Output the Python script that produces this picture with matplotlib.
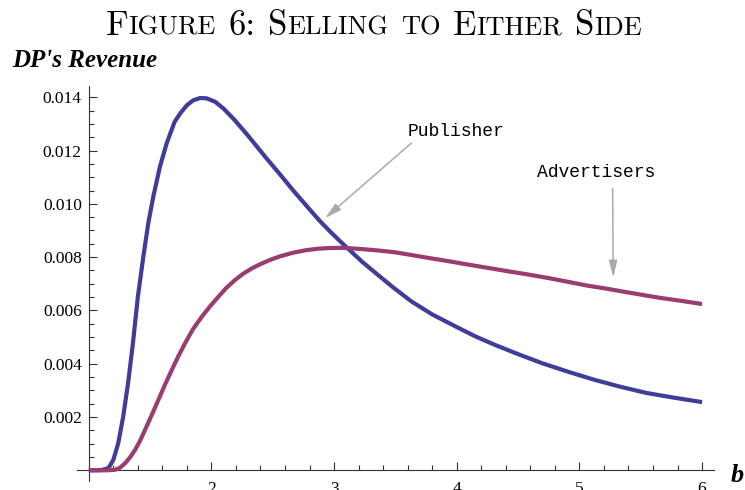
import matplotlib
matplotlib.use('Agg')
import matplotlib.pyplot as plt
from matplotlib.ticker import FixedLocator, MultipleLocator, FormatStrFormatter
from matplotlib.offsetbox import TextArea, HPacker, AnchoredOffsetbox

# values
publisher_x = [1.00, 1.10, 1.16, 1.20, 1.24, 1.28, 1.32, 1.36, 1.40, 1.445, 1.485, 1.526,
               1.58, 1.635, 1.70, 1.75, 1.80, 1.85, 1.907, 1.96, 2.03, 2.10, 2.19, 2.30,
               2.45, 2.56, 2.667, 2.78, 2.885, 2.97, 3.048, 3.13, 3.23, 3.34, 3.48, 3.63,
               3.80, 3.99, 4.15, 4.31, 4.50, 4.69, 4.90, 5.12, 5.33, 5.55, 5.78, 6.00]
publisher_y = [0.0, 0.00001, 0.00008, 0.00039, 0.00101, 0.0020, 0.00326, 0.00477, 0.00651,
               0.00802, 0.00927, 0.01027, 0.01139, 0.01227, 0.01308, 0.01342, 0.01370,
               0.01388, 0.01397, 0.01396, 0.01383, 0.01357, 0.01314, 0.01255, 0.01170,
               0.01110, 0.01050, 0.00990, 0.00935, 0.00895, 0.00860, 0.00825, 0.00782,
               0.00740, 0.00687, 0.00634, 0.00585, 0.00540, 0.00503, 0.00471, 0.00436,
               0.00403, 0.00371, 0.00340, 0.00314, 0.00290, 0.00272, 0.00256]

advertisers_x = [1.00, 1.15, 1.214, 1.255, 1.295, 1.335, 1.377, 1.418, 1.458, 1.51, 1.567,
                 1.62, 1.676, 1.73, 1.785, 1.85, 1.921, 1.99, 2.056, 2.12, 2.192, 2.26,
                 2.33, 2.40, 2.48, 2.56, 2.661, 2.77, 2.878, 2.96, 3.05, 3.14, 3.229, 3.36,
                 3.499, 3.63, 3.769, 3.93, 4.093, 4.25, 4.417, 4.58, 4.741, 4.90, 5.066,
                 5.23, 5.39, 5.53, 5.66, 5.83, 6.00]
advertisers_y = [0.0, 0.0, 0.00002, 0.0001, 0.00026, 0.00048, 0.00076, 0.00111, 0.00151,
                 0.00204, 0.00264, 0.00320, 0.00376, 0.00428, 0.00477, 0.00530, 0.00576,
                 0.00616, 0.00651, 0.00684, 0.00714, 0.00738, 0.00758, 0.00774, 0.00790,
                 0.00803, 0.00816, 0.00826, 0.00832, 0.00834, 0.00835, 0.00833, 0.00830,
                 0.00825, 0.00818, 0.00808, 0.00797, 0.00785, 0.00772, 0.00760, 0.00747,
                 0.00735, 0.00722, 0.00708, 0.00693, 0.00681, 0.00668, 0.00657, 0.00647,
                 0.00636, 0.00624]

x_ticks = [2, 3, 4, 5, 6]
y_ticks = [0.002, 0.004, 0.006, 0.008, 0.010, 0.012, 0.014]

blue = '#3f3d99'
purple = '#993d71'
grey = '#aaaaaa'

fig = plt.figure(figsize=(7.45, 4.9), dpi=100)
ax = fig.add_axes([0.1027, 0.0184, 0.8561, 0.8071])

ax.plot(publisher_x, publisher_y, color=blue, lw=3.0, solid_capstyle='butt',
        solid_joinstyle='round', zorder=3)
ax.plot(advertisers_x, advertisers_y, color=purple, lw=3.0, solid_capstyle='butt',
        solid_joinstyle='round', zorder=4)

ax.set_xlim(0.9, 6.1)
ax.set_ylim(-0.0004, 0.01444)

ax.spines['top'].set_visible(False)
ax.spines['right'].set_visible(False)
ax.spines['left'].set_position(('data', 1))
ax.spines['bottom'].set_position(('data', 0))
for s in ['left', 'bottom']:
    ax.spines[s].set_linewidth(0.8)
    ax.spines[s].set_color('#333333')

ax.xaxis.set_major_locator(FixedLocator(x_ticks))
ax.xaxis.set_minor_locator(MultipleLocator(0.2))
ax.yaxis.set_major_locator(FixedLocator(y_ticks))
ax.yaxis.set_minor_locator(MultipleLocator(0.0005))
ax.yaxis.set_major_formatter(FormatStrFormatter('%.3f'))

ax.tick_params(which='both', direction='in', color='#333333', width=0.8)
ax.tick_params(which='major', length=6)
ax.tick_params(which='minor', length=3.6)
ax.tick_params(axis='y', which='major', pad=5)
ax.tick_params(axis='x', which='major', pad=8)
for lab in ax.get_xticklabels() + ax.get_yticklabels():
    lab.set_fontfamily('Liberation Serif')
    lab.set_fontsize(12.5)

# annotations
ax.text(3.99, 0.01273, 'Publisher', family='Liberation Mono', fontsize=13,
        ha='center', va='center')
ax.annotate('', xy=(2.926, 0.00946), xytext=(3.63, 0.01228),
            arrowprops=dict(arrowstyle='-|>,head_length=1.0,head_width=0.25',
                            color=grey, lw=1.1, shrinkA=0, shrinkB=0,
                            mutation_scale=10))
ax.text(5.134, 0.01117, 'Advertisers', family='Liberation Mono', fontsize=13,
        ha='center', va='center')
ax.annotate('', xy=(5.276, 0.00724), xytext=(5.271, 0.01058),
            arrowprops=dict(arrowstyle='-|>,head_length=1.0,head_width=0.25',
                            color=grey, lw=1.1, shrinkA=0, shrinkB=0,
                            mutation_scale=10))

# axis labels
fig.text(12 / 745, 1 - 67 / 490, "DP's Revenue", family='Liberation Serif',
         weight='bold', style='italic', fontsize=18, va='baseline', ha='left')
fig.text(731 / 745, 1 - 482 / 490, 'b', family='Liberation Serif',
         weight='bold', style='italic', fontsize=19, va='baseline', ha='left')

# title in small caps
big = 25
small = 19
words = [[('F', big), ('IGURE', small)], [('6:', big)],
         [('S', big), ('ELLING', small)], [('TO', small)],
         [('E', big), ('ITHER', small)], [('S', big), ('IDE', small)]]
boxes = []
for w in words:
    parts = [TextArea(t, textprops=dict(family='cmr10', fontsize=sz)) for t, sz in w]
    boxes.append(HPacker(children=parts, align='baseline', pad=0, sep=0))
title = HPacker(children=boxes, align='baseline', pad=0, sep=9)
anch = AnchoredOffsetbox(loc='upper center', child=title, pad=0, borderpad=0,
                         frameon=False, bbox_to_anchor=(374 / 745, 1 - 10 / 490),
                         bbox_transform=fig.transFigure)
fig.add_artist(anch)

fig.savefig('out.png', dpi=100)
